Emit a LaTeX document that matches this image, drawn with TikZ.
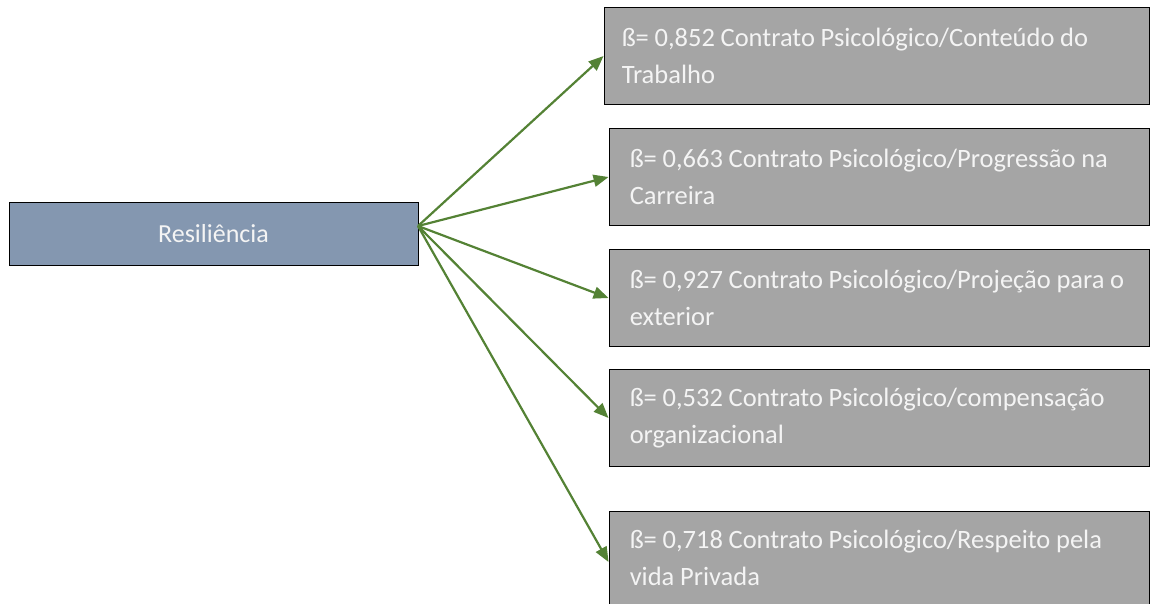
\documentclass[tikz,border=0pt]{standalone}
\usepackage{fontspec}
\setmainfont{Carlito}[WordSpace={0.95,0.5,0.5}]
\usetikzlibrary{arrows.meta}
\definecolor{srcfill}{HTML}{8497B0}
\definecolor{tgtfill}{HTML}{A5A5A5}
\definecolor{linkgreen}{HTML}{548235}
\definecolor{labelwhite}{HTML}{F4F4F4}
\begin{document}
\begin{tikzpicture}[x=1pt,y=-1pt,
  srcbox/.style={draw=black, line width=0.9pt, fill=srcfill, text=labelwhite,
    minimum width=409pt, minimum height=63pt, inner sep=0pt,
    font=\fontsize{26}{37}\selectfont},
  tgtbox/.style={draw=black, line width=0.9pt, fill=tgtfill,
    minimum width=540pt, minimum height=97pt, inner sep=0pt},
  tgtlabel/.style={anchor=west, text=labelwhite, inner sep=0pt, align=left,
    font=\fontsize{26.5}{37}\selectfont},
  link/.style={draw=linkgreen, line width=2.2pt,
    -{Triangle[length=15pt,width=12pt]}}]
\useasboundingbox (0,0) rectangle (1150,603);

\node[srcbox] (res) at (213.5,233.5) {Resiliência};
\coordinate (hub) at (418,226);

% target boxes
\node[tgtbox, minimum width=545pt] (c1) at (876.5,56) {};
\node[tgtbox] (c2) at (879,177) {};
\node[tgtbox] (c3) at (879,298) {};
\node[tgtbox] (c4) at (879,418) {};
\node[tgtbox, minimum height=102pt] (c5) at (879,562) {};

% their labels
\node[tgtlabel] (t1) at ([xshift=18pt]c1.west)
  {ß= 0,852 Contrato Psicológico/Conteúdo do\\Trabalho};
\node[tgtlabel] (t2) at ([xshift=21pt]c2.west)
  {ß= 0,663 Contrato Psicológico/Progressão na\\Carreira};
\node[tgtlabel] (t3) at ([xshift=21pt]c3.west)
  {ß= 0,927 Contrato Psicológico/Projeção para o\\exterior};
\node[tgtlabel] (t4) at ([xshift=21pt]c4.west)
  {ß= 0,532 Contrato Psicológico/compensação\\organizacional};
\node[tgtlabel] (t5) at ([xshift=21pt,yshift=4pt]c5.west)
  {ß= 0,718 Contrato Psicológico/Respeito pela\\vida Privada};

\foreach \t in {c1,c2,c3,c4,c5}
  \draw[link] (hub) -- (\t.west);
\end{tikzpicture}
\end{document}
